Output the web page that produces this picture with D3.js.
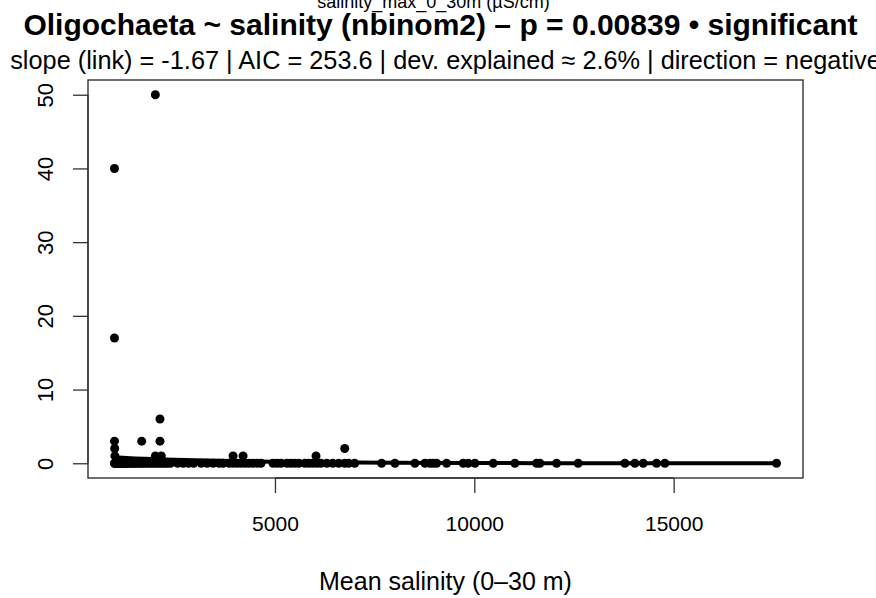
<!DOCTYPE html>
<html>
<head>
<meta charset="utf-8">
<script src="https://cdn.jsdelivr.net/npm/d3@7"></script>
<style>
  body { margin: 0; background: #fff; }
  svg { display: block; font-family: "Liberation Sans", Arial, sans-serif; }
</style>
</head>
<body>
<svg id="chart-svg" width="876" height="598"></svg>
<script>
// counts > 0
const hitSalinity = [975, 975, 975, 980, 985, 1658, 2000, 2116, 2116, 2000, 2150, 3950, 4200, 6030, 6750];
const hitCount    = [40,  17,  3,   2,   1,   3,    50,   6,    3,    1,    1,    1,    1,    1,    2];

// zero counts
const zeroSalinity = [975, 980, 990, 1000, 1010, 1025, 1040, 1060, 1080, 1100, 1125, 1150, 1180, 1210,
  1240, 1270, 1300, 1340, 1380, 1420, 1460, 1500, 1550, 1600, 1650, 1700, 1760, 1820, 1880, 1940,
  2000, 2060, 2120, 2180, 2240, 2300, 2380, 2560, 2700, 2830, 2960, 3150, 3300, 3450, 3600, 3700,
  3850, 3950, 4050, 4150, 4250, 4350, 4450, 4550, 4650, 4950, 5050, 5150, 5300, 5400, 5500, 5600,
  5750, 5850, 5950, 6050, 6150, 6300, 6450, 6600, 6750, 6850, 7000, 7675, 8009, 8510, 8761, 8887,
  8969, 9054, 9305, 9722, 9847, 10015, 10474, 11018, 11562, 11645, 12064, 12605, 13776, 14027,
  14236, 14571, 14779, 17580];

// fitted nbinom2 curve
const fitSalinity = [975, 1500, 2000, 3000, 4000, 5000, 6000, 8000, 10000, 13000, 17580];
const fitCount    = [0.8, 0.65, 0.55, 0.4, 0.3, 0.2, 0.14, 0.07, 0.03, 0.01, 0.002];

const xTicks = [5000, 10000, 15000];
const yTicks = [0, 10, 20, 30, 40, 50];

const topLabel = "salinity_max_0_30m (µS/cm)";
const mainTitle = "Oligochaeta ~ salinity (nbinom2) \u2013 p = 0.00839 \u2022 significant";
const subTitle = "slope (link) = -1.67 | AIC = 253.6 | dev. explained \u2248 2.6% | direction = negative";
const xTitle = "Mean salinity (0\u201330 m)";

const box = { left: 88, right: 803, top: 80, bottom: 478 };

let svg = d3.select('#chart-svg');

let points = [];
hitSalinity.forEach((s, i) => points.push({ x: s, y: hitCount[i] }));
zeroSalinity.forEach(s => points.push({ x: s, y: 0 }));

// R style 4% padding
let xExt = d3.extent(points, d => d.x);
let yExt = d3.extent(points, d => d.y);
let xPad = (xExt[1] - xExt[0]) * 0.04;
let yPad = (yExt[1] - yExt[0]) * 0.04;

let xScale = d3.scaleLinear().domain([xExt[0] - xPad, xExt[1] + xPad]).range([box.left, box.right]);
let yScale = d3.scaleLinear().domain([yExt[0] - yPad, yExt[1] + yPad]).range([box.bottom, box.top]);

// points
svg.append('g').selectAll('circle').data(points).enter().append('circle')
    .attr('cx', d => xScale(d.x))
    .attr('cy', d => yScale(d.y))
    .attr('r', 4.5)
    .attr('fill', '#000');

// fitted line
let lineGenerator = d3.line()
    .x((d, i) => xScale(fitSalinity[i]))
    .y(d => yScale(d))
    .curve(d3.curveMonotoneX);

svg.append('path')
    .attr('d', lineGenerator(fitCount))
    .attr('fill', 'none')
    .attr('stroke', '#000')
    .attr('stroke-width', 4);

// box
svg.append('rect')
    .attr('x', box.left).attr('y', box.top)
    .attr('width', box.right - box.left).attr('height', box.bottom - box.top)
    .attr('fill', 'none').attr('stroke', '#222').attr('stroke-width', 1.3);

// axes
const xAxisGroup = svg.append('g').classed('axis', true)
    .attr('transform', 'translate(0,' + box.bottom + ')');
xAxisGroup.call(d3.axisBottom(xScale).tickValues(xTicks).tickSize(15).tickSizeOuter(0).tickPadding(23).tickFormat(d3.format('d')));

const yAxisGroup = svg.append('g').classed('axis', true)
    .attr('transform', 'translate(' + box.left + ',0)');
yAxisGroup.call(d3.axisLeft(yScale).tickValues(yTicks).tickSize(15).tickSizeOuter(0).tickFormat(d3.format('d')));

svg.selectAll('.axis .domain').remove();
svg.selectAll('.axis line').attr('stroke', '#333').attr('stroke-width', 1.3);
xAxisGroup.selectAll('text').attr('font-size', 21).attr('font-family', '"Liberation Sans", Arial, sans-serif').attr('fill', '#000');

yAxisGroup.selectAll('text')
    .attr('font-size', 22)
    .attr('font-family', '"Liberation Sans", Arial, sans-serif')
    .attr('fill', '#000')
    .attr('x', null).attr('dy', null)
    .attr('text-anchor', 'middle')
    .attr('transform', 'translate(-35,0) rotate(-90)');

// axis line from first to last tick
svg.append('line')
    .attr('x1', xScale(xTicks[0])).attr('x2', xScale(xTicks[xTicks.length - 1]))
    .attr('y1', box.bottom).attr('y2', box.bottom)
    .attr('stroke', '#333').attr('stroke-width', 1.3);
svg.append('line')
    .attr('x1', box.left).attr('x2', box.left)
    .attr('y1', yScale(yTicks[0])).attr('y2', yScale(yTicks[yTicks.length - 1]))
    .attr('stroke', '#333').attr('stroke-width', 1.3);

// titles
let cx = (box.left + box.right) / 2;

svg.append('text')
    .attr('x', cx - 12).attr('y', 8)
    .attr('text-anchor', 'middle')
    .attr('font-size', 18)
    .text(topLabel);

svg.append('text')
    .attr('x', cx - 5).attr('y', 35)
    .attr('text-anchor', 'middle')
    .attr('font-size', 30)
    .attr('font-weight', 'bold')
    .text(mainTitle);

svg.append('text')
    .attr('x', cx).attr('y', 69)
    .attr('text-anchor', 'middle')
    .attr('font-size', 25.3)
    .text(subTitle);

svg.append('text')
    .attr('x', cx).attr('y', 590)
    .attr('text-anchor', 'middle')
    .attr('font-size', 25)
    .text(xTitle);
</script>
</body>
</html>
